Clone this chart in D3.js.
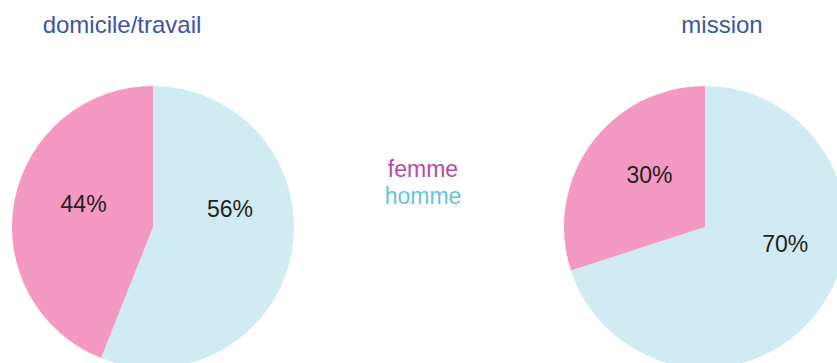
<!DOCTYPE html>
<html>
<head>
<meta charset="utf-8">
<script src="https://cdn.jsdelivr.net/npm/d3@7"></script>
<style>
  html, body { margin: 0; padding: 0; background: #fff; }
  svg { display: block; font-family: "Liberation Sans", Arial, Helvetica, sans-serif; }
</style>
</head>
<body>
<svg id="chart" width="837" height="363"></svg>
<script>
// Share of women / men per trip purpose (percent)
const purposes = ["domicile/travail", "mission"];
const genders = ["homme", "femme"];
const hommeValues = [56, 70];
const femmeValues = [44, 30];

const fillColors = { homme: "#d1ebf2", femme: "#f49ac2" };
const legendColors = { femme: "#b84a9d", homme: "#63c6dc" };

const W = 837, H = 363;
const radius = 141;
const pieCenters = [[153, 227], [705, 227]];
const titleX = [122, 722];

// Label placement relative to each pie centre (polar: angle in degrees clockwise from top, distance)
const labelPlacement = [
  { femme: [-72, 73], homme: [77, 79] },
  { femme: [-47, 76], homme: [102, 82] }
];

const svg = d3.select("#chart");

const pie = d3.pie().sort(null).value(d => d.value);
const arc = d3.arc().innerRadius(0).outerRadius(radius);

purposes.forEach((p, i) => {
  const data = [
    { gender: "homme", value: hommeValues[i] },
    { gender: "femme", value: femmeValues[i] }
  ];
  const [cx, cy] = pieCenters[i];
  const g = svg.append("g").attr("transform", `translate(${cx},${cy})`);

  const arcs = pie(data);
  g.selectAll("path")
    .data(arcs)
    .join("path")
    .attr("d", arc)
    .attr("fill", d => fillColors[d.data.gender]);

  g.selectAll("text.pct")
    .data(arcs)
    .join("text")
    .attr("class", "pct")
    .attr("text-anchor", "middle")
    .attr("dominant-baseline", "central")
    .attr("font-size", 23)
    .attr("fill", "#231f20")
    .attr("transform", d => {
      const [deg, dist] = labelPlacement[i][d.data.gender];
      const a = deg * Math.PI / 180;
      return `translate(${dist * Math.sin(a)},${-dist * Math.cos(a)})`;
    })
    .text(d => d.data.value + "%");

  svg.append("text")
    .attr("x", titleX[i])
    .attr("y", 33)
    .attr("text-anchor", "middle")
    .attr("font-size", 24)
    .attr("fill", "#3d55a5")
    .text(p);
});

// Legend
const legend = svg.append("g").attr("transform", "translate(423,0)");
["femme", "homme"].forEach((k, j) => {
  legend.append("text")
    .attr("x", 0)
    .attr("y", 177 + j * 27)
    .attr("text-anchor", "middle")
    .attr("font-size", 23)
    .attr("fill", legendColors[k])
    .text(k);
});
</script>
</body>
</html>
